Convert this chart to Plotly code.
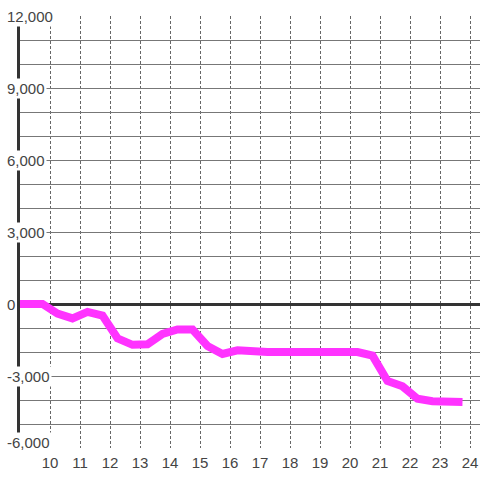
import plotly.graph_objects as go

# Data
hours = [8.75, 9.25, 9.75, 10.25, 10.75, 11.25, 11.75, 12.25, 12.75, 13.25,
         13.75, 14.25, 14.75, 15.25, 15.75, 16.25, 16.75, 17.25, 17.75, 18.25,
         18.75, 19.25, 19.75, 20.25, 20.75, 21.25, 21.75, 22.25, 22.75, 23.25, 23.75]
values = [0, 0, 0, -400, -600, -330, -480, -1430, -1700, -1680,
          -1250, -1060, -1060, -1750, -2080, -1930, -1990, -2000, -2000, -2000,
          -2000, -2000, -2000, -2000, -2150, -3210, -3430, -3950, -4050, -4080, -4080]

x_ticks = list(range(10, 25))
y_ticks = [-6000, -3000, 0, 3000, 6000, 9000, 12000]
y_tick_labels = ["-6,000", "-3,000", "0", "3,000", "6,000", "9,000", "12,000"]

X_RANGE = [9.0, 24.3333]
Y_RANGE = [-6000, 12000]

fig = go.Figure()
fig.add_trace(go.Scatter(
    x=hours, y=values, mode="lines",
    line=dict(color="#ff33ff", width=8),
    hoverinfo="skip", showlegend=False,
))

fig.update_layout(
    width=480, height=480,
    margin=dict(l=20, r=0, t=16, b=32, autoexpand=False),
    paper_bgcolor="white", plot_bgcolor="white",
    font=dict(family="Liberation Sans, Arial, sans-serif", size=15, color="#444"),
    xaxis=dict(
        range=X_RANGE, tickvals=x_ticks, ticktext=[str(v) for v in x_ticks],
        showgrid=True, gridcolor="#666", gridwidth=1, griddash="3px,2px",
        zeroline=False, showline=False, ticks="", automargin=False,
        ticklabelstandoff=4,
        tickfont=dict(size=15, color="#444"),
    ),
    yaxis=dict(
        range=Y_RANGE, dtick=1000, tick0=0,
        showgrid=True, gridcolor="#777", gridwidth=1,
        zeroline=True, zerolinecolor="#333", zerolinewidth=3,
        showline=True, linecolor="#333", linewidth=3,
        showticklabels=False, ticks="", automargin=False,
    ),
)

for v, t in zip(y_ticks, y_tick_labels):
    fig.add_annotation(
        x=-15 / 460, y=v, xref="paper", yref="y",
        text=t, showarrow=False, xanchor="left", yanchor="middle",
        yshift=6 if v == Y_RANGE[0] else 0,
        bgcolor="white", borderpad=1,
        font=dict(size=15, color="#444"),
    )

fig.write_html("out.html", config={"displayModeBar": False},
               post_script="document.body.style.margin='0';")
